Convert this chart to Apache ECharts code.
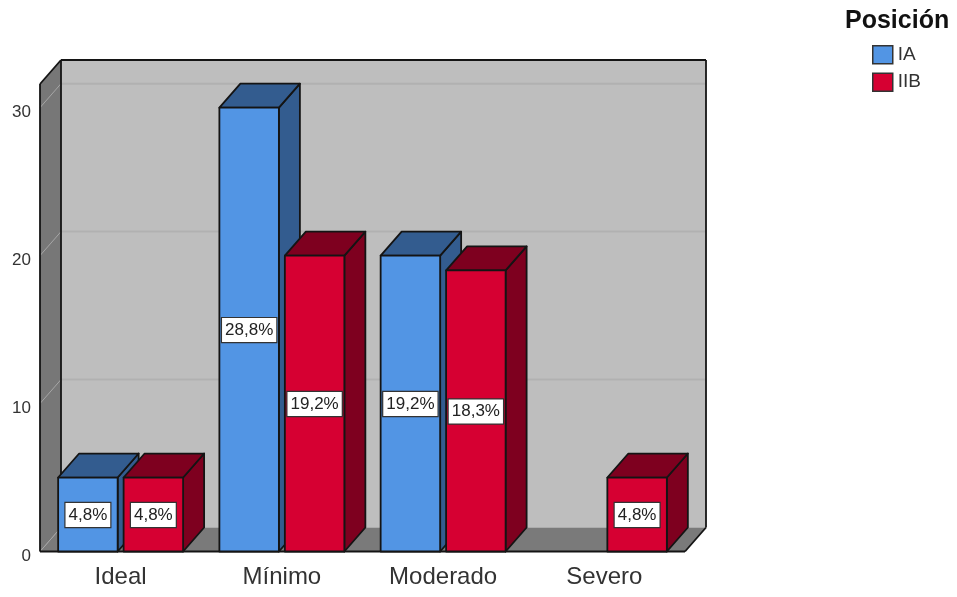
<!DOCTYPE html>
<html>
<head>
<meta charset="utf-8">
<style>html,body{margin:0;padding:0;background:#fff}#chart{width:957px;height:597px}</style>
<script src="https://cdn.jsdelivr.net/npm/echarts@6/dist/echarts.min.js"></script>
</head>
<body>
<div id="chart"></div>
<script>
// Case counts per grade and position, with the share of all 104 cases printed on each bar.
const categories = ['Ideal', 'Mínimo', 'Moderado', 'Severo'];
const valuesIA = [5, 30, 20, null];
const valuesIIB = [5, 20, 19, 5];
const percentIA = ['4,8%', '28,8%', '19,2%', null];
const percentIIB = ['4,8%', '19,2%', '18,3%', '4,8%'];
const yTicks = [0, 10, 20, 30];
const FONT = '"Liberation Sans", Arial, sans-serif';

// Extrusion of the pseudo-3D box, in pixels.
const DEPTH_X = 21;
const DEPTH_Y = 24;
const EDGE = '#141414';
const EDGE_W = 1.8;

const poly = (points, fill) => ({
  type: 'polygon',
  shape: { points },
  style: { fill, stroke: EDGE, lineWidth: EDGE_W, lineJoin: 'round' }
});
const seg = (x1, y1, x2, y2, stroke, lineWidth) => ({
  type: 'line',
  shape: { x1, y1, x2, y2 },
  style: { stroke, lineWidth }
});

// Back wall, side wall, floor and the gridlines running around them.
function renderWalls(params, api) {
  const c = params.coordSys;
  const l = c.x, r = c.x + c.width, t = c.y, b = c.y + c.height;
  const children = [
    { type: 'rect', shape: { x: l + DEPTH_X, y: t - DEPTH_Y, width: c.width, height: c.height },
      style: { fill: '#bebebe' } },
    { type: 'polygon', shape: { points: [[l, b], [l + DEPTH_X, b - DEPTH_Y], [r + DEPTH_X, b - DEPTH_Y], [r, b]] },
      style: { fill: '#7a7a7a' } },
    { type: 'polygon', shape: { points: [[l, t], [l + DEPTH_X, t - DEPTH_Y], [l + DEPTH_X, b - DEPTH_Y], [l, b]] },
      style: { fill: '#777777' } }
  ];
  yTicks.forEach(v => {
    const y = api.coord([0, v])[1];
    if (v > 0) children.push(seg(l + DEPTH_X, y - DEPTH_Y, r + DEPTH_X, y - DEPTH_Y, '#b1b1b1', 2));
    children.push(seg(l, y, l + DEPTH_X, y - DEPTH_Y, '#a6a6a6', 1));
  });
  children.push(
    seg(l, t, l, b, EDGE, EDGE_W),
    seg(l, t, l + DEPTH_X, t - DEPTH_Y, EDGE, EDGE_W),
    seg(l + DEPTH_X, t - DEPTH_Y, l + DEPTH_X, b - DEPTH_Y, EDGE, EDGE_W),
    seg(l + DEPTH_X, t - DEPTH_Y, r + DEPTH_X, t - DEPTH_Y, EDGE, EDGE_W),
    seg(r + DEPTH_X, t - DEPTH_Y, r + DEPTH_X, b - DEPTH_Y, EDGE, EDGE_W),
    seg(r + DEPTH_X, b - DEPTH_Y, r, b, EDGE, EDGE_W),
    seg(l, b, r, b, EDGE, EDGE_W)
  );
  return { type: 'group', children };
}

// One extruded bar: slotSign picks the left (-1) or right (+1) slot within a category.
function barRenderer(slotSign, front, shade) {
  return function (params, api) {
    const band = api.size([1, 0])[0];
    const width = band * 0.369;
    const gap = band * 0.037;
    const top = api.coord([api.value(0), api.value(1)]);
    const bottom = api.coord([api.value(0), 0])[1];
    const x0 = slotSign < 0 ? top[0] - gap / 2 - width : top[0] + gap / 2;
    const x1 = x0 + width;
    const y0 = top[1];
    const text = api.value(2);
    return {
      type: 'group',
      children: [
        poly([[x1, y0], [x1 + DEPTH_X, y0 - DEPTH_Y], [x1 + DEPTH_X, bottom - DEPTH_Y], [x1, bottom]], shade),
        poly([[x0, y0], [x0 + DEPTH_X, y0 - DEPTH_Y], [x1 + DEPTH_X, y0 - DEPTH_Y], [x1, y0]], shade),
        poly([[x0, y0], [x1, y0], [x1, bottom], [x0, bottom]], front),
        {
          type: 'text',
          x: (x0 + x1) / 2,
          y: (y0 + bottom) / 2 + 0.5,
          z2: 10,
          style: {
            text,
            align: 'center',
            verticalAlign: 'middle',
            fontFamily: FONT,
            fontSize: 17,
            fill: '#222',
            backgroundColor: '#fff',
            borderColor: '#333',
            borderWidth: 1.2,
            padding: [4, 3, 3, 3]
          }
        }
      ]
    };
  };
}

const toRows = (values, labels) =>
  values.map((v, i) => (v === null ? null : [i, v, labels[i]])).filter(Boolean);

const COLOR_IA = '#5295E4', SHADE_IA = '#335C8F';
const COLOR_IIB = '#D60032', SHADE_IIB = '#7E001F';

const chart = echarts.init(document.getElementById('chart'), null, { renderer: 'canvas' });
chart.setOption({
  animation: false,
  backgroundColor: '#fff',
  title: {
    text: 'Posición',
    left: 840,
    top: 4,
    textStyle: { fontFamily: FONT, fontWeight: 'bold', fontSize: 25, color: '#111' }
  },
  legend: {
    orient: 'vertical',
    left: 872,
    top: 45,
    padding: 0,
    itemWidth: 20,
    itemHeight: 18,
    itemGap: 8,
    icon: 'rect',
    textStyle: { fontFamily: FONT, fontSize: 19, color: '#333' },
    data: [
      { name: 'IA', itemStyle: { color: COLOR_IA, borderColor: '#333', borderWidth: 1.5 } },
      { name: 'IIB', itemStyle: { color: COLOR_IIB, borderColor: '#333', borderWidth: 1.5 } }
    ]
  },
  grid: { left: 40, top: 84, width: 645, height: 467.5 },
  xAxis: {
    type: 'category',
    data: categories,
    axisLine: { show: false },
    axisTick: { show: false },
    axisLabel: { fontFamily: FONT, fontSize: 24, color: '#333', margin: 14 }
  },
  yAxis: {
    type: 'value',
    min: 0,
    max: 31.6,
    axisLine: { show: false },
    axisTick: { show: false },
    splitLine: { show: false },
    axisLabel: {
      customValues: yTicks,
      color: '#333',
      margin: 9,
      // Rich text box pushes the numbers slightly below their tick height.
      formatter: v => `{num|${v}}`,
      rich: { num: { fontFamily: FONT, fontSize: 17, color: '#333', padding: [9, 0, 0, 0] } }
    }
  },
  series: [
    {
      type: 'custom',
      silent: true,
      z: 1,
      legendHoverLink: false,
      renderItem: renderWalls,
      data: [[0, 0]],
      encode: { x: 0, y: 1 }
    },
    {
      name: 'IA',
      type: 'custom',
      z: 2,
      itemStyle: { color: COLOR_IA },
      renderItem: barRenderer(-1, COLOR_IA, SHADE_IA),
      data: toRows(valuesIA, percentIA),
      encode: { x: 0, y: 1 }
    },
    {
      name: 'IIB',
      type: 'custom',
      z: 3,
      itemStyle: { color: COLOR_IIB },
      renderItem: barRenderer(1, COLOR_IIB, SHADE_IIB),
      data: toRows(valuesIIB, percentIIB),
      encode: { x: 0, y: 1 }
    }
  ]
});
</script>
</body>
</html>
